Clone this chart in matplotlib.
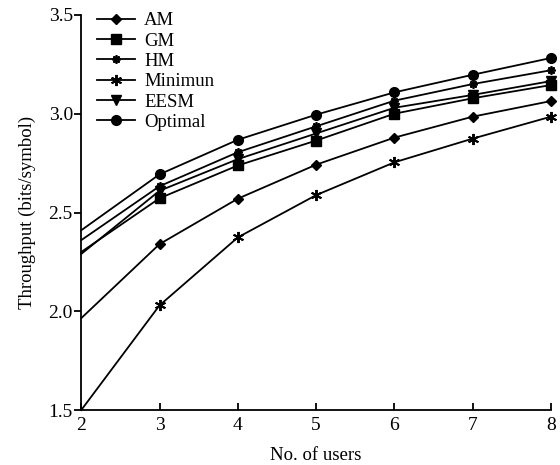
import matplotlib.pyplot as plt

plt.rcParams['font.family'] = ['Liberation Serif', 'DejaVu Serif']

users = [2, 3, 4, 5, 6, 7, 8]
am = [1.965, 2.34, 2.57, 2.742, 2.879, 2.985, 3.064]
gm = [2.30, 2.572, 2.738, 2.864, 3.00, 3.078, 3.145]
hm = [2.36, 2.633, 2.805, 2.936, 3.066, 3.15, 3.22]
minimun = [1.50, 2.03, 2.374, 2.588, 2.754, 2.874, 2.985]
eesm = [2.29, 2.61, 2.77, 2.90, 3.03, 3.095, 3.165]
optimal = [2.41, 2.693, 2.868, 2.995, 3.108, 3.197, 3.282]

series = [
    ('AM', am, dict(marker='D', markersize=5)),
    ('GM', gm, dict(marker='s', markersize=7)),
    ('HM', hm, dict(marker=(8, 2, 0), markersize=6, markeredgewidth=1.3)),
    ('Minimun', minimun, dict(marker=(6, 2, 0), markersize=8, markeredgewidth=1.4)),
    ('EESM', eesm, dict(marker='v', markersize=7)),
    ('Optimal', optimal, dict(marker='o', markersize=7)),
]

fig = plt.figure(figsize=(5.6, 4.65), dpi=100)
ax = fig.add_axes([0.145, 0.118, 0.839, 0.85])

for name, vals, style in series:
    ax.plot(users, vals, color='black', linewidth=1.3, label=name,
            markerfacecolor='black', markeredgecolor='black',
            markevery=slice(1, None), clip_on=False, **style)

ax.set_xlim(2, 8)
ax.set_ylim(1.5, 3.5)
ax.set_xticks(users)
ax.set_yticks([1.5, 2.0, 2.5, 3.0, 3.5])
ax.set_yticklabels(['1.5', '2.0', '2.5', '3.0', '3.5'])
ax.spines['top'].set_visible(False)
ax.spines['right'].set_visible(False)
ax.spines['left'].set_linewidth(1.3)
ax.spines['bottom'].set_linewidth(1.3)
ax.tick_params(axis='x', direction='in', length=5, width=1.3, labelsize=14, pad=5)
ax.tick_params(axis='y', direction='out', length=5, width=1.3, labelsize=14, pad=1)

ax.set_xlabel('No. of users', fontsize=13.5, labelpad=9)
ax.set_ylabel('Throughput (bits/symbol)', fontsize=13.5, labelpad=9)

ax.legend(loc='upper left', bbox_to_anchor=(0.01, 1.035), frameon=False,
          fontsize=13.5, handlelength=2.0, handletextpad=0.5, labelspacing=0.17,
          borderaxespad=0.2)

fig.savefig('out.png', dpi=100)
